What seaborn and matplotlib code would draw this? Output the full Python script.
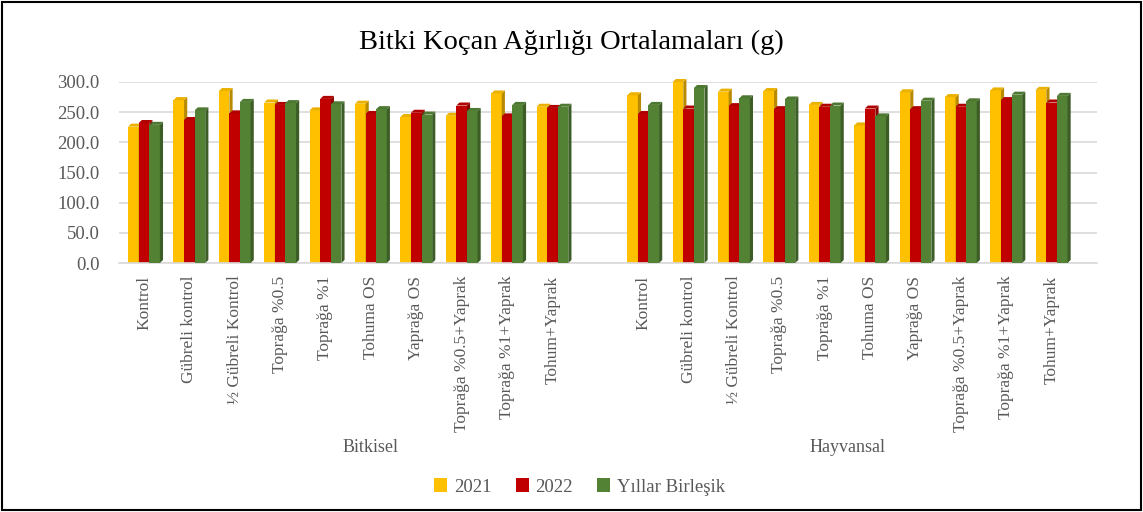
import numpy as np
import pandas as pd
import matplotlib
matplotlib.use("Agg")
import matplotlib.pyplot as plt
import seaborn as sns
from matplotlib.patches import Polygon, Rectangle
import matplotlib.colors as mcolors

# ---------------- data ----------------
title = "Bitki Koçan Ağırlığı Ortalamaları (g)"
treatments = ["Kontrol", "Gübreli kontrol", "½ Gübreli Kontrol", "Toprağa %0.5",
              "Toprağa %1", "Tohuma OS", "Yaprağa OS", "Toprağa %0.5+Yaprak",
              "Toprağa %1+Yaprak", "Tohum+Yaprak"]
groups = ["Bitkisel", "Hayvansal"]
series = ["2021", "2022", "Yıllar Birleşik"]

bitkisel_2021 = [226, 270, 285, 266, 253, 264, 242, 244, 281, 259]
bitkisel_2022 = [232, 237, 248, 262, 272, 247, 249, 261, 243, 257]
bitkisel_birlesik = [229, 253, 267, 265, 263, 255, 246, 252, 262, 259]

hayvansal_2021 = [278, 300, 284, 285, 262, 228, 283, 275, 286, 287]
hayvansal_2022 = [247, 256, 260, 255, 259, 256, 255, 259, 270, 266]
hayvansal_birlesik = [262, 290, 273, 271, 261, 243, 269, 268, 279, 277]

yticks = [0, 50, 100, 150, 200, 250, 300]
colors = ["#FFC000", "#C00000", "#548235"]

# ---------------- dataframe ----------------
rows = []
vals = {
    "Bitkisel": [bitkisel_2021, bitkisel_2022, bitkisel_birlesik],
    "Hayvansal": [hayvansal_2021, hayvansal_2022, hayvansal_birlesik],
}
for g in groups:
    for si, s in enumerate(series):
        for ti, t in enumerate(treatments):
            rows.append({"key": f"{g}|{t}", "series": s, "value": vals[g][si][ti]})
df = pd.DataFrame(rows)
# the Bitkisel group carries one empty slot at its end (separator)
order = [f"Bitkisel|{t}" for t in treatments] + ["__gap__"] + [f"Hayvansal|{t}" for t in treatments]
group_spans = {"Bitkisel": (0, 10), "Hayvansal": (11, 20)}

# ---------------- figure ----------------
sns.set_theme(style="white")
plt.rcParams["font.family"] = ["Liberation Serif", "DejaVu Serif"]
W, H = 1143, 512
fig = plt.figure(figsize=(W / 100, H / 100), dpi=100)
ax_left, ax_right = 119 / W, 1097 / W
ax_bottom, ax_top = 1 - 263 / H, 1 - 82 / H
ax = fig.add_axes([ax_left, ax_bottom, ax_right - ax_left, ax_top - ax_bottom])

sns.barplot(data=df, x="key", y="value", hue="series", order=order, hue_order=series,
            palette=colors, width=0.7, gap=0, saturation=1, errorbar=None,
            linewidth=0, legend=False, ax=ax)

# pseudo-3D faces derived from drawn bars
def shade(c, f):
    r, g, b = mcolors.to_rgb(c)
    return (r * f, g * f, b * f)

dx = 0.07
dy = 5.0
patches = list(ax.patches)
for p in patches:
    fc = p.get_facecolor()
    idx = int(np.argmin([np.sum((np.array(mcolors.to_rgb(c)) - np.array(fc[:3])) ** 2) for c in colors]))
    base_z = 2 + idx * 0.3
    p.set_zorder(base_z)
    p.set_clip_on(False)
    x, w, h = p.get_x(), p.get_width(), p.get_height()
    side = Polygon([(x + w, 0), (x + w + dx, dy), (x + w + dx, h + dy), (x + w, h)],
                   closed=True, facecolor=shade(colors[idx], 0.72), edgecolor="none",
                   zorder=base_z + 0.1, clip_on=False)
    top = Polygon([(x, h), (x + dx, h + dy), (x + w + dx, h + dy), (x + w, h)],
                  closed=True, facecolor=shade(colors[idx], 0.92), edgecolor="none",
                  zorder=base_z + 0.1, clip_on=False)
    ax.add_patch(side)
    ax.add_patch(top)

ax.set_xlim(-0.55, 21.0)
ax.set_ylim(0, 300)
ax.set_yticks(yticks)
ax.set_yticklabels([f"{v:.1f}" for v in yticks])
ax.yaxis.grid(True, color="#D9D9D9", linewidth=1.2)
ax.set_axisbelow(True)
for s in ["left", "right", "top"]:
    ax.spines[s].set_visible(False)
ax.spines["bottom"].set_color("#D9D9D9")
ax.spines["bottom"].set_linewidth(1.2)

ax.set_xticks(range(len(order)))
ax.set_xticklabels(treatments + [""] + treatments, rotation=90, va="top", ha="center")
ax.tick_params(axis="x", length=0, pad=9, labelsize=12.5, labelcolor="#595959")
ax.tick_params(axis="y", length=0, pad=14, labelsize=13.5, labelcolor="#595959")
ax.set_xlabel("")
ax.set_ylabel("")

# group labels
for g in groups:
    a, b = group_spans[g]
    center = (a + b) / 2
    xd = ax.transData.transform((center, 0))[0]
    fig.text(xd / W, 1 - 448 / H, g, ha="center", va="center",
             fontsize=13, color="#595959")

# title
fig.text(0.5, 1 - 42 / H, title, ha="center", va="center", fontsize=20.5, color="#000000")

# legend
handles = [Rectangle((0, 0), 1, 1, facecolor=c, edgecolor="none") for c in colors]
leg = fig.legend(handles, series, loc="center", bbox_to_anchor=(0.507, 1 - 487 / H),
                 ncol=3, frameon=False, handlelength=0.7, handleheight=0.7,
                 columnspacing=1.3, handletextpad=0.35, fontsize=13.5)
for t in leg.get_texts():
    t.set_color("#595959")

# outer frame
fig.add_artist(Rectangle((2 / W, 2 / H), 1 - 4 / W, 1 - 4 / H, transform=fig.transFigure,
                         fill=False, edgecolor="#000000", linewidth=1.5))

fig.savefig("out.png", dpi=100)
